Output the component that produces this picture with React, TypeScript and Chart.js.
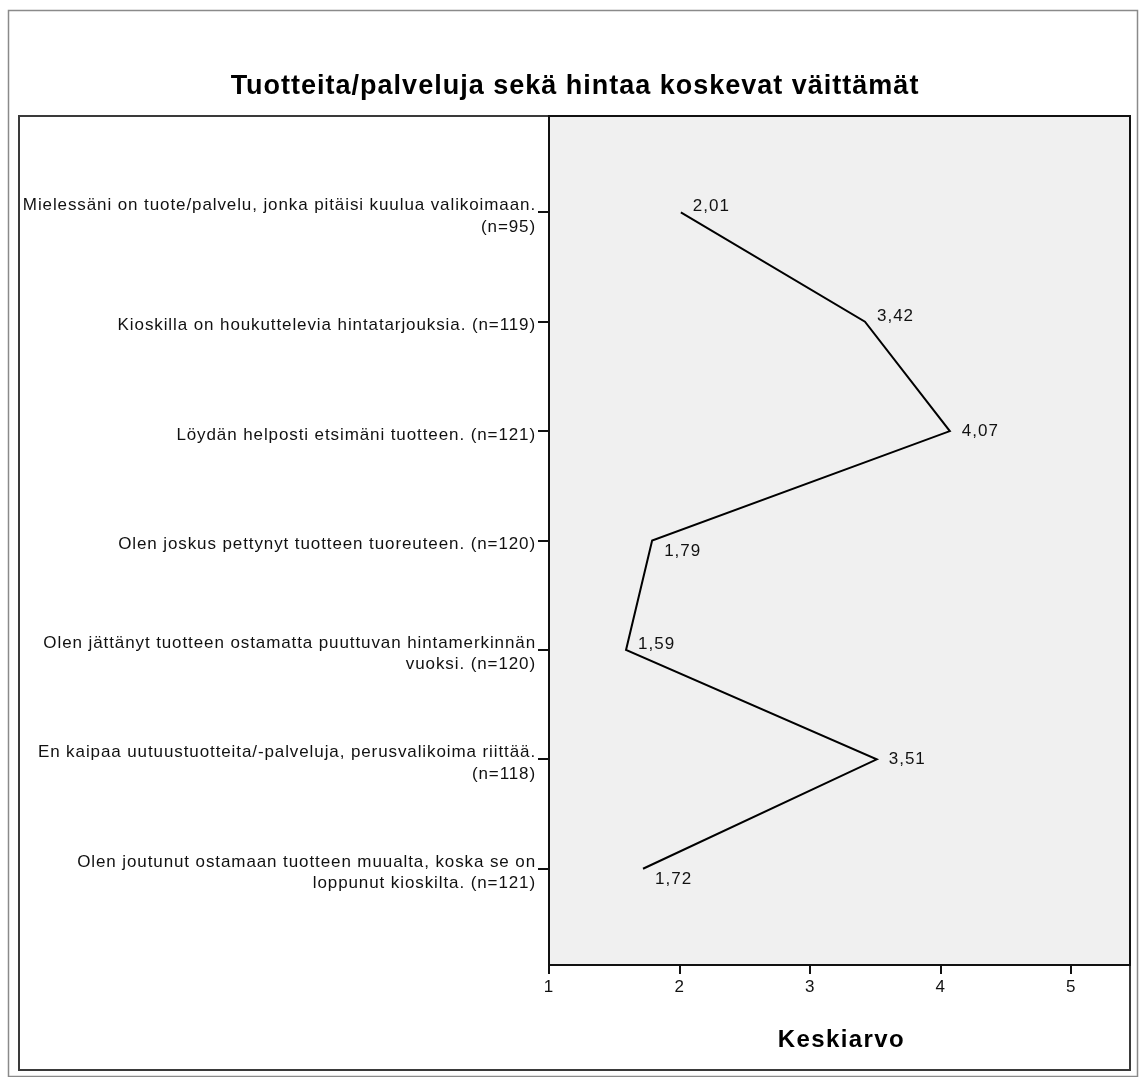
import { useEffect, useRef } from "react";
import { Chart, registerables } from "chart.js";

Chart.register(...registerables);

const chartTitle = "Tuotteita/palveluja sekä hintaa koskevat väittämät";
const axisTitle = "Keskiarvo";

const categories: string[][] = [
  ["Mielessäni on tuote/palvelu, jonka pitäisi kuulua valikoimaan.", "(n=95)"],
  ["Kioskilla on houkuttelevia hintatarjouksia. (n=119)"],
  ["Löydän helposti etsimäni tuotteen. (n=121)"],
  ["Olen joskus pettynyt tuotteen tuoreuteen. (n=120)"],
  ["Olen jättänyt tuotteen ostamatta puuttuvan hintamerkinnän", "vuoksi. (n=120)"],
  ["En kaipaa uutuustuotteita/-palveluja, perusvalikoima riittää.", "(n=118)"],
  ["Olen joutunut ostamaan tuotteen muualta, koska se on", "loppunut kioskilta. (n=121)"],
];

const means: number[] = [2.01, 3.42, 4.07, 1.79, 1.59, 3.51, 1.72];

const xTickValues: number[] = [1, 2, 3, 4, 5];

// where each value label sits relative to its point (style only)
const labelPlacement: string[] = ["above", "above", "right", "below", "above", "right", "below"];

const FONT = "'Liberation Sans', Arial, sans-serif";

const fmt = (v: number) => v.toFixed(2).replace(".", ",");

export default function App() {
  const ref = useRef<HTMLCanvasElement>(null);

  useEffect(() => {
    if (!ref.current) return;

    const framePlugin = {
      id: "frames",
      beforeDraw(chart: any) {
        const ctx = chart.ctx as CanvasRenderingContext2D;
        const { left, right, top, bottom } = chart.chartArea;
        ctx.save();
        ctx.fillStyle = "#ffffff";
        ctx.fillRect(0, 0, chart.width, chart.height);
        // outer frame
        ctx.strokeStyle = "#8a8a8a";
        ctx.lineWidth = 1.5;
        ctx.strokeRect(8.5, 10.5, 1129, 1066);
        // plot background
        ctx.fillStyle = "#f0f0f0";
        ctx.fillRect(left, top, right - left, bottom - top);
        ctx.restore();
        (ctx as any).letterSpacing = "0.9px";
      },
      afterDraw(chart: any) {
        const ctx = chart.ctx as CanvasRenderingContext2D;
        const { left, right, top, bottom } = chart.chartArea;
        ctx.save();
        // inner box
        ctx.strokeStyle = "#3a3a3a";
        ctx.lineWidth = 2;
        ctx.strokeRect(19, top, right - 19, 1070 - top);
        // plot border
        ctx.strokeStyle = "#111111";
        ctx.lineWidth = 2;
        ctx.strokeRect(left, top, right - left, bottom - top);

        // value labels
        const meta = chart.getDatasetMeta(0);
        ctx.fillStyle = "#111111";
        ctx.font = `17px ${FONT}`;
        (ctx as any).letterSpacing = "1px";
        ctx.textAlign = "left";
        meta.data.forEach((pt: any, i: number) => {
          const p = labelPlacement[i];
          const x = pt.x + 12;
          let y = pt.y;
          if (p === "above") {
            ctx.textBaseline = "alphabetic";
            y = pt.y - 1;
          } else if (p === "below") {
            ctx.textBaseline = "top";
            y = pt.y + 2;
          } else {
            ctx.textBaseline = "middle";
          }
          ctx.fillText(fmt(means[i]), x, y);
        });

        // titles
        ctx.textAlign = "center";
        ctx.textBaseline = "middle";
        ctx.fillStyle = "#000000";
        ctx.font = `bold 27px ${FONT}`;
        (ctx as any).letterSpacing = "1px";
        ctx.fillText(chartTitle, 575, 87);
        ctx.font = `bold 24px ${FONT}`;
        (ctx as any).letterSpacing = "1.4px";
        ctx.fillText(axisTitle, (left + right) / 2 + 2, 1040);
        ctx.restore();
      },
    };

    const chart = new Chart(ref.current, {
      type: "line",
      data: {
        datasets: [
          {
            data: means.map((v, i) => ({ x: v, y: i })),
            borderColor: "#000000",
            borderWidth: 2,
            pointRadius: 0,
            fill: false,
            tension: 0,
          },
        ],
      },
      options: {
        animation: false,
        responsive: false,
        maintainAspectRatio: false,
        layout: { padding: { left: 19, right: 10, top: 116, bottom: 7 } },
        plugins: {
          legend: { display: false },
          tooltip: { enabled: false },
          title: { display: false },
        },
        scales: {
          x: {
            type: "linear",
            position: "bottom",
            min: 1,
            max: 5.45,
            afterBuildTicks: (scale: any) => {
              scale.ticks = xTickValues.map((v) => ({ value: v }));
            },
            afterFit: (scale: any) => {
              scale.height = 105;
            },
            grid: {
              drawOnChartArea: false,
              drawTicks: true,
              tickLength: 9,
              color: "#111111",
              lineWidth: 2,
            },
            border: { display: false },
            ticks: {
              color: "#111111",
              font: { family: FONT, size: 17 },
              padding: 3,
              maxRotation: 0,
              callback: (v: any) => String(v),
            },
          },
          y: {
            type: "linear",
            reverse: true,
            min: -0.88,
            max: 6.88,
            afterBuildTicks: (scale: any) => {
              scale.ticks = categories.map((_, i) => ({ value: i }));
            },
            afterFit: (scale: any) => {
              scale.width = 549 - 19;
            },
            grid: {
              drawOnChartArea: false,
              drawTicks: true,
              tickLength: 11,
              color: "#111111",
              lineWidth: 2,
            },
            border: { display: false },
            ticks: {
              color: "#111111",
              font: { family: FONT, size: 17, lineHeight: 1.25 },
              padding: 2,
              labelOffset: 4,
              autoSkip: false,
              callback: (v: any) => categories[v as number] ?? "",
            },
          },
        },
      },
      plugins: [framePlugin],
    });

    return () => chart.destroy();
  }, []);

  return (
    <div style={{ position: "fixed", left: 0, top: 0, width: 1140, height: 1077, background: "#fff" }}>
      <canvas ref={ref} width={1140} height={1077} style={{ width: 1140, height: 1077, display: "block" }} />
    </div>
  );
}
